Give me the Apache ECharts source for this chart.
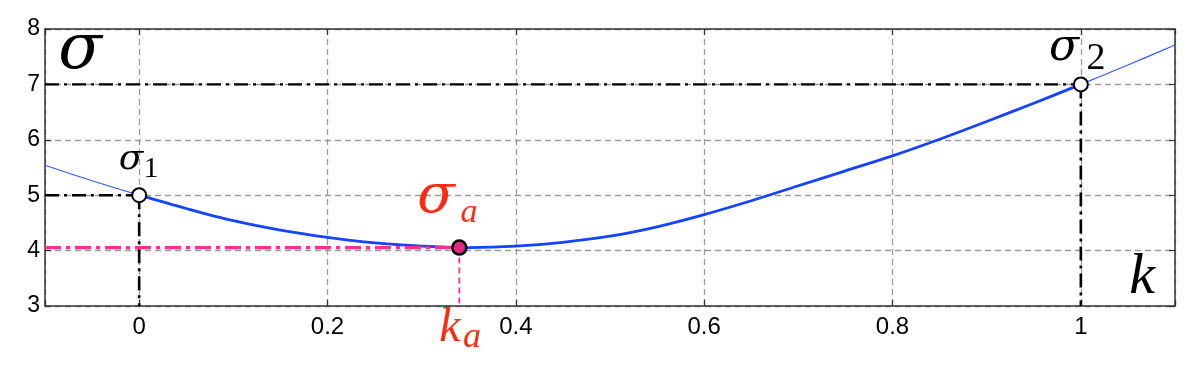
<!DOCTYPE html>
<html>
<head>
<meta charset="utf-8">
<script src="https://cdn.jsdelivr.net/npm/echarts@6/dist/echarts.min.js"></script>
<style>
html,body{margin:0;padding:0;background:#fff;}
#c{width:1200px;height:366px;}
</style>
</head>
<body>
<div id="c"></div>
<script>
// ---- data ----
var kValues     = [-0.1, -0.05, 0, 0.05, 0.1, 0.15, 0.2, 0.25, 0.3, 0.35, 0.4, 0.45, 0.5, 0.55, 0.6, 0.65, 0.7, 0.75, 0.8, 0.85, 0.9, 0.95, 1.0, 1.05, 1.1];
var sigmaValues = [5.54, 5.26, 5.0, 4.76, 4.54, 4.37, 4.24, 4.14, 4.08, 4.055, 4.08, 4.15, 4.26, 4.43, 4.65, 4.90, 5.17, 5.44, 5.71, 6.01, 6.33, 6.66, 7.0, 7.35, 7.71];
var point1 = [0, 5];          // sigma_1
var point2 = [1, 7];          // sigma_2
var pointA = [0.34, 4.055];   // sigma_a at k_a
var xTickLabels = ['0', '0.2', '0.4', '0.6', '0.8', '1'];
var yTickLabels = ['3', '4', '5', '6', '7', '8'];
var xMin = -0.1, xMax = 1.1, yMin = 3, yMax = 8;

var curveAll = kValues.map(function (k, i) { return [k, sigmaValues[i]]; });
var curveMid = curveAll.filter(function (p) { return p[0] >= 0 && p[0] <= 1; });

var chart = echarts.init(document.getElementById('c'));
var dashDot = [14, 5, 3, 5];
var gridDash = [6, 4];

function xFmt(v) {
  for (var i = 0; i < xTickLabels.length; i++) {
    if (Math.abs(parseFloat(xTickLabels[i]) - v) < 1e-6) return xTickLabels[i];
  }
  return '';
}
function yFmt(v) {
  for (var i = 0; i < yTickLabels.length; i++) {
    if (Math.abs(parseFloat(yTickLabels[i]) - v) < 1e-6) return yTickLabels[i];
  }
  return '';
}
var sig = '"DejaVu Serif"';

var option = {
  animation: false,
  backgroundColor: '#fff',
  grid: { left: 45, right: 25, top: 29, bottom: 60 },
  xAxis: [{
    type: 'value', min: xMin, max: xMax, splitNumber: 6,
    axisLine: { show: true, onZero: false, lineStyle: { color: '#333', width: 1.5 } },
    axisTick: { show: true, inside: true, length: 6, lineStyle: { color: '#333', width: 1.2 } },
    axisLabel: { formatter: xFmt, fontFamily: 'Liberation Sans', fontSize: 24, color: '#000', margin: 9 },
    splitLine: { show: true, lineStyle: { color: '#9a9a9a', width: 1.3, type: gridDash } }
  }, {
    type: 'value', min: xMin, max: xMax, splitNumber: 6, position: 'top',
    axisLine: { show: true, onZero: false, lineStyle: { color: '#333', width: 1.5 } },
    axisTick: { show: true, inside: true, length: 6, lineStyle: { color: '#333', width: 1.2 } },
    axisLabel: { show: false }, splitLine: { show: false }
  }],
  yAxis: [{
    type: 'value', min: yMin, max: yMax, interval: 1,
    axisLine: { show: true, onZero: false, lineStyle: { color: '#333', width: 1.5 } },
    axisTick: { show: true, inside: true, length: 6, lineStyle: { color: '#333', width: 1.2 } },
    axisLabel: { formatter: yFmt, fontFamily: 'Liberation Sans', fontSize: 23, color: '#000', margin: 5 },
    splitLine: { show: true, lineStyle: { color: '#9a9a9a', width: 1.3, type: gridDash } }
  }, {
    type: 'value', min: yMin, max: yMax, interval: 1, position: 'right',
    axisLine: { show: true, onZero: false, lineStyle: { color: '#333', width: 1.5 } },
    axisTick: { show: true, inside: true, length: 6, lineStyle: { color: '#333', width: 1.2 } },
    axisLabel: { show: false }, splitLine: { show: false }
  }],
  series: [
    { type: 'line', data: curveAll, smooth: 0.3, symbol: 'none', z: 3,
      lineStyle: { color: '#3358ff', width: 1.2 } },
    { type: 'line', data: curveMid, smooth: 0.3, symbol: 'none', z: 4,
      lineStyle: { color: '#1444ff', width: 2.8 } },
    // black dash-dot guides
    { type: 'line', data: [[xMin, point1[1]], point1], symbol: 'none', z: 5,
      lineStyle: { color: '#000', width: 2.4, type: dashDot } },
    { type: 'line', data: [point1, [point1[0], yMin]], symbol: 'none', z: 5,
      lineStyle: { color: '#000', width: 2.6, type: dashDot } },
    { type: 'line', data: [[xMin, point2[1]], point2], symbol: 'none', z: 5,
      lineStyle: { color: '#000', width: 2.4, type: dashDot } },
    { type: 'line', data: [point2, [point2[0], yMin]], symbol: 'none', z: 5,
      lineStyle: { color: '#000', width: 2.6, type: dashDot } },
    // pink guides
    { type: 'line', data: [[xMin, pointA[1]], pointA], symbol: 'none', z: 5,
      lineStyle: { color: '#ff2f8f', width: 3.2, type: [16, 5, 4, 5] } },
    { type: 'line', data: [pointA, [pointA[0], yMin]], symbol: 'none', z: 5,
      lineStyle: { color: '#ff2f8f', width: 1.8, type: [6, 4] } },
    // markers
    { type: 'scatter', data: [point1, point2], symbol: 'circle', symbolSize: 14, z: 10,
      itemStyle: { color: '#fff', opacity: 1, borderColor: '#000', borderWidth: 2 } },
    { type: 'scatter', data: [pointA], symbol: 'circle', symbolSize: 14, z: 10,
      itemStyle: { color: '#e8267f', opacity: 1, borderColor: '#000', borderWidth: 2.6 } }
  ],
  graphic: [
    { type: 'text', x: 80, y: 51, z: 20, style: { text: 'σ', font: 'italic 64px ' + sig, fill: '#000', align: 'center', verticalAlign: 'middle' } },
    { type: 'text', x: 131, y: 160, z: 20, style: { text: 'σ', font: 'italic 36px ' + sig, fill: '#000', align: 'center', verticalAlign: 'middle' } },
    { type: 'text', x: 151, y: 169, z: 20, style: { text: '1', font: '30px "Liberation Serif"', fill: '#000', align: 'center', verticalAlign: 'middle' } },
    { type: 'text', x: 1064, y: 49, z: 20, style: { text: 'σ', font: 'italic 44px ' + sig, fill: '#000', align: 'center', verticalAlign: 'middle' } },
    { type: 'text', x: 1096, y: 59, z: 20, style: { text: '2', font: '38px "Liberation Serif"', fill: '#000', align: 'center', verticalAlign: 'middle' } },
    { type: 'text', x: 436, y: 198, z: 20, style: { text: 'σ', font: 'italic 55px ' + sig, fill: '#ff2a10', align: 'center', verticalAlign: 'middle' } },
    { type: 'text', x: 469, y: 213, z: 20, style: { text: 'a', font: 'italic 34px "Liberation Serif"', fill: '#ff2a10', align: 'center', verticalAlign: 'middle' } },
    { type: 'text', x: 450, y: 328, z: 20, style: { text: 'k', font: 'italic 48px "Liberation Serif"', fill: '#ff2a10', align: 'center', verticalAlign: 'middle' } },
    { type: 'text', x: 472, y: 338, z: 20, style: { text: 'a', font: 'italic 36px "Liberation Serif"', fill: '#ff2a10', align: 'center', verticalAlign: 'middle' } },
    { type: 'text', x: 1142, y: 278, z: 20, style: { text: 'k', font: 'italic 58px "Liberation Serif"', fill: '#000', align: 'center', verticalAlign: 'middle' } }
  ]
};
chart.setOption(option);
</script>
</body>
</html>
